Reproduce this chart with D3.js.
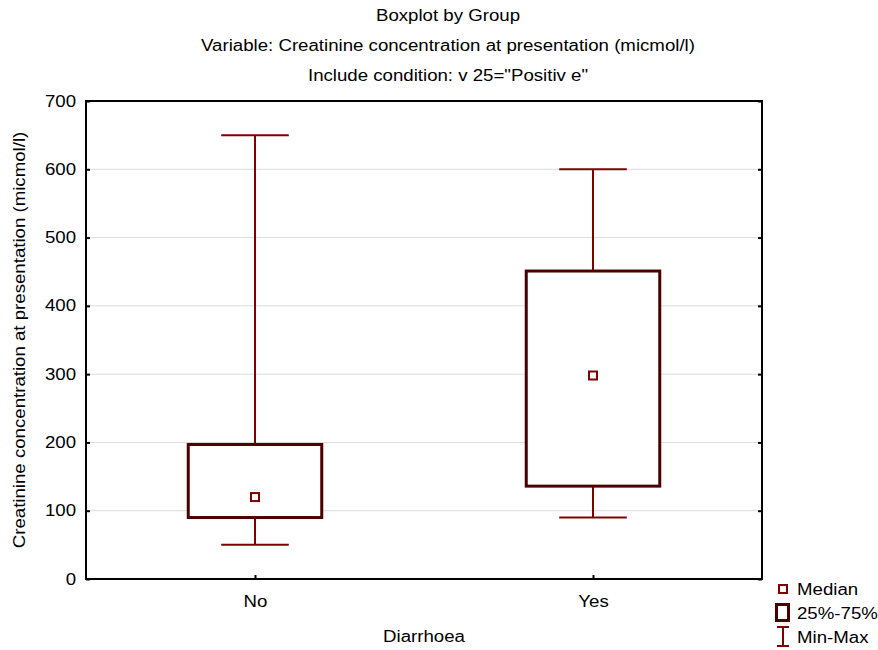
<!DOCTYPE html>
<html><head><meta charset="utf-8">
<script src="https://cdn.jsdelivr.net/npm/d3@7"></script>
<style>body{margin:0;background:#fff;} svg{display:block;} text{font-family:"Liberation Sans",Arial,sans-serif;fill:#000;}</style>
</head><body>
<script>
const categories = ["No", "Yes"];
const minVals = [50, 90];
const q1Vals = [90, 136];
const medianVals = [120, 298];
const q3Vals = [197, 451];
const maxVals = [650, 600];
const yTicks = [0, 100, 200, 300, 400, 500, 600, 700];
const titles = ["Boxplot by  Group", "Variable: Creatinine concentration at presentation (micmol/l)", "Include condition: v 25=\"Positiv e\""];

const W = 878, H = 650;
const FS = 16, STRETCH = 1.165;
const m = {left: 86, right: 762, top: 101, bottom: 579};
const svg = d3.select("body").append("svg").attr("width", W).attr("height", H);

const x = d3.scalePoint().domain(categories).range([m.left, m.right]).padding(0.5);
const y = d3.scaleLinear().domain([0, 700]).range([m.bottom, m.top]);
const step = x.step();

// grid
svg.append("g").selectAll("line").data(yTicks.slice(1, -1)).join("line")
  .attr("x1", m.left).attr("x2", m.right).attr("y1", d => y(d)).attr("y2", d => y(d))
  .attr("stroke", "#dcdcdc").attr("stroke-width", 1);

// titles
svg.append("g").selectAll("text").data(titles).join("text")
  .attr("x", 448).attr("y", (d, i) => 21 + i * 30).attr("text-anchor", "middle")
  .attr("font-size", FS).text(d => d);

// axes
const yAxisL = d3.axisLeft(y).tickValues(yTicks).tickSize(-4).tickPadding(10).tickFormat(d3.format("d"));
const gL = svg.append("g").attr("transform", `translate(${m.left},0)`).call(yAxisL);
gL.select(".domain").remove();
gL.selectAll("text").attr("font-size", FS).attr("fill", "#000").attr("font-family", "Liberation Sans, Arial, sans-serif");
gL.selectAll("line").attr("stroke", "#000").attr("stroke-width", 2);

const gR = svg.append("g").attr("transform", `translate(${m.right},0)`).call(d3.axisRight(y).tickValues(yTicks).tickSize(-4).tickFormat(""));
gR.select(".domain").remove();
gR.selectAll("line").attr("stroke", "#000").attr("stroke-width", 2);

const gB = svg.append("g").attr("transform", `translate(0,${m.bottom})`).call(d3.axisBottom(x).tickSize(-4).tickPadding(17));
gB.select(".domain").remove();
gB.selectAll("text").attr("font-size", FS).attr("fill", "#000").attr("font-family", "Liberation Sans, Arial, sans-serif");
gB.selectAll("line").attr("stroke", "#000").attr("stroke-width", 2);

// frame
svg.append("rect").attr("x", m.left).attr("y", m.top).attr("width", m.right - m.left).attr("height", m.bottom - m.top)
  .attr("fill", "none").attr("stroke", "#000").attr("stroke-width", 2);

// axis titles
svg.append("text").attr("x", 424).attr("y", 642).attr("text-anchor", "middle").attr("font-size", FS).text("Diarrhoea");
svg.append("text").attr("transform", `translate(25,${(m.top + m.bottom) / 2}) rotate(-90)`)
  .attr("text-anchor", "middle").attr("font-size", FS).text("Creatinine concentration at presentation (micmol/l)");

// boxes
const data = categories.map((c, i) => ({c, min: minVals[i], q1: q1Vals[i], med: medianVals[i], q3: q3Vals[i], max: maxVals[i]}));
const boxW = step * 0.395, capW = step * 0.2;
const wc = "#800000", bc = "#4a0000";
const g = svg.append("g");
data.forEach(d => {
  const cx = x(d.c);
  g.append("line").attr("x1", cx).attr("x2", cx).attr("y1", y(d.max)).attr("y2", y(d.q3)).attr("stroke", wc).attr("stroke-width", 2);
  g.append("line").attr("x1", cx).attr("x2", cx).attr("y1", y(d.q1)).attr("y2", y(d.min)).attr("stroke", wc).attr("stroke-width", 2);
  g.append("line").attr("x1", cx - capW / 2).attr("x2", cx + capW / 2).attr("y1", y(d.max)).attr("y2", y(d.max)).attr("stroke", wc).attr("stroke-width", 2);
  g.append("line").attr("x1", cx - capW / 2).attr("x2", cx + capW / 2).attr("y1", y(d.min)).attr("y2", y(d.min)).attr("stroke", wc).attr("stroke-width", 2);
  g.append("rect").attr("x", cx - boxW / 2).attr("y", y(d.q3)).attr("width", boxW).attr("height", y(d.q1) - y(d.q3))
    .attr("fill", "#fff").attr("stroke", bc).attr("stroke-width", 3);
  g.append("rect").attr("x", cx - 4).attr("y", y(d.med) - 4).attr("width", 8).attr("height", 8)
    .attr("fill", "#fff").attr("stroke", wc).attr("stroke-width", 2);
});

// legend
const lg = svg.append("g");
lg.append("rect").attr("x", 779).attr("y", 585).attr("width", 8).attr("height", 8).attr("fill", "#fff").attr("stroke", wc).attr("stroke-width", 2);
lg.append("text").attr("x", 797).attr("y", 595).attr("font-size", FS).text("Median");
lg.append("rect").attr("x", 776.5).attr("y", 604.5).attr("width", 12).attr("height", 16).attr("fill", "#fff").attr("stroke", bc).attr("stroke-width", 3);
lg.append("text").attr("x", 797).attr("y", 619).attr("font-size", FS).text("25%-75%");
lg.append("line").attr("x1", 783).attr("x2", 783).attr("y1", 627).attr("y2", 646).attr("stroke", wc).attr("stroke-width", 2);
lg.append("line").attr("x1", 777).attr("x2", 789).attr("y1", 627).attr("y2", 627).attr("stroke", wc).attr("stroke-width", 2);
lg.append("line").attr("x1", 777).attr("x2", 789).attr("y1", 646).attr("y2", 646).attr("stroke", wc).attr("stroke-width", 2);
lg.append("text").attr("x", 797).attr("y", 643).attr("font-size", FS).text("Min-Max");

// widen all text horizontally to match the reference's wide glyphs
svg.selectAll("text").each(function() {
  const len = this.getComputedTextLength();
  if (len > 0) d3.select(this).attr("textLength", len * STRETCH).attr("lengthAdjust", "spacingAndGlyphs");
});
</script>
</body></html>
